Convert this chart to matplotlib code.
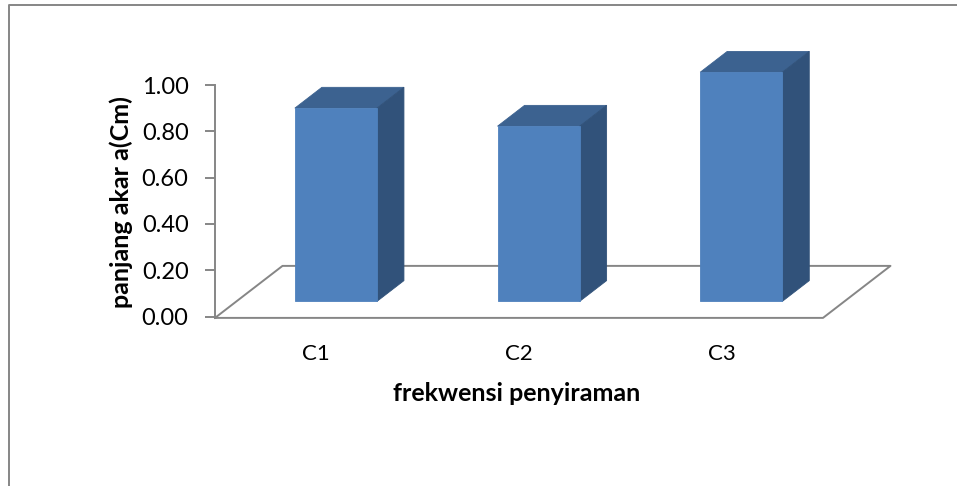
"""Recreate the 3D-style column chart of root length by watering frequency."""

import matplotlib

matplotlib.use("Agg")
import matplotlib.pyplot as plt
from matplotlib.lines import Line2D
from matplotlib.patches import Polygon

categories = ["C1", "C2", "C3"]
values = [0.835, 0.757, 0.99]
y_ticks = [0.0, 0.2, 0.4, 0.6, 0.8, 1.0]

WIDTH, HEIGHT = 957, 486
DPI = 100
LEFT, RIGHT, TOP, BOTTOM = 215, 823, 85, 316.5

# Floor depth expressed in data units (oblique projection)
DEPTH_X = 0.333
DEPTH_Y = 0.2246
FLOOR_Y = -0.006
BAR_WIDTH = 0.405
BAR_NEAR = 0.29
BAR_FAR = 0.69

GREY = "#868686"
FRONT = "#4F81BD"
TOP_FACE = "#3C6290"
SIDE = "#31527A"

plt.rcParams["font.family"] = ["Lato", "DejaVu Sans"]


def project(x: float, y: float, depth: float) -> tuple[float, float]:
    return x + depth * DEPTH_X, y + depth * DEPTH_Y


def face(ax: plt.Axes, points: list[tuple[float, float]], color: str, z: int) -> None:
    ax.add_patch(
        Polygon(points, closed=True, facecolor=color, edgecolor=color, linewidth=0.6, zorder=z, clip_on=False)
    )


def draw_floor(ax: plt.Axes, n: int) -> None:
    corners = [
        project(0, FLOOR_Y, 0),
        project(0, FLOOR_Y, 1),
        project(n, FLOOR_Y, 1),
        project(n, FLOOR_Y, 0),
        project(0, FLOOR_Y, 0),
    ]
    xs, ys = zip(*corners)
    ax.plot(xs, ys, color=GREY, linewidth=1.4, clip_on=False, zorder=1)


def draw_column(ax: plt.Axes, center: float, value: float) -> None:
    left = center - BAR_WIDTH / 2
    right = center + BAR_WIDTH / 2
    face(
        ax,
        [project(left, 0, BAR_NEAR), project(right, 0, BAR_NEAR),
         project(right, value, BAR_NEAR), project(left, value, BAR_NEAR)],
        FRONT, 4,
    )
    face(
        ax,
        [project(left, value, BAR_NEAR), project(right, value, BAR_NEAR),
         project(right, value, BAR_FAR), project(left, value, BAR_FAR)],
        TOP_FACE, 3,
    )
    face(
        ax,
        [project(right, 0, BAR_NEAR), project(right, 0, BAR_FAR),
         project(right, value, BAR_FAR), project(right, value, BAR_NEAR)],
        SIDE, 3,
    )


def main() -> None:
    fig = plt.figure(figsize=(WIDTH / DPI, HEIGHT / DPI), dpi=DPI, facecolor="white")
    ax = fig.add_axes(
        [LEFT / WIDTH, 1 - BOTTOM / HEIGHT, (RIGHT - LEFT) / WIDTH, (BOTTOM - TOP) / HEIGHT]
    )
    ax.patch.set_visible(False)

    n = len(categories)
    draw_floor(ax, n)
    for i, value in enumerate(values):
        draw_column(ax, i + 0.5, value)

    ax.set_xlim(0, n)
    ax.set_ylim(0, 1)
    ax.set_xticks([i + 0.5 for i in range(n)], categories)
    ax.set_yticks(y_ticks, [f"{t:.2f}" for t in y_ticks])
    ax.tick_params(axis="x", length=0, pad=20, labelsize=16)
    ax.tick_params(axis="y", length=7, width=1.4, color=GREY, pad=12, labelsize=17)
    for side in ("top", "right", "bottom"):
        ax.spines[side].set_visible(False)
    ax.spines["left"].set_color(GREY)
    ax.spines["left"].set_linewidth(1.4)

    fig.text(517 / WIDTH, 1 - 393 / HEIGHT, "frekwensi penyiraman", ha="center", va="center",
             fontsize=18, fontweight="bold")
    fig.text(121 / WIDTH, 1 - 202 / HEIGHT, "panjang akar a(Cm)", ha="center", va="center",
             rotation=90, fontsize=18, fontweight="bold")

    # Outer chart frame, cropped at the right and bottom of the picture
    frame_x = [8.5 / WIDTH, 8.5 / WIDTH, 1]
    frame_y = [0, 1 - 5.5 / HEIGHT, 1 - 5.5 / HEIGHT]
    fig.add_artist(Line2D(frame_x, frame_y, color=GREY, linewidth=1.4, transform=fig.transFigure))

    fig.savefig("out.png", dpi=DPI)
    plt.close(fig)


if __name__ == "__main__":
    main()
